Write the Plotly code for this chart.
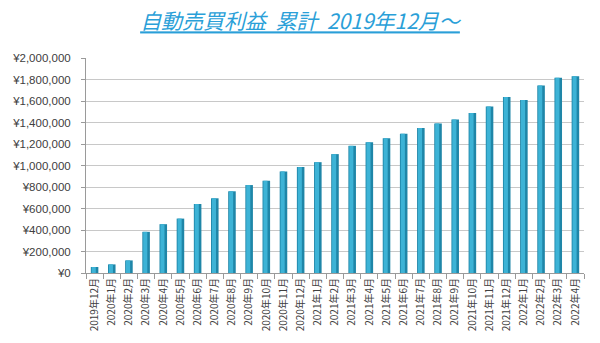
import plotly.graph_objects as go

months = ["2019年12月", "2020年1月", "2020年2月", "2020年3月", "2020年4月", "2020年5月",
          "2020年6月", "2020年7月", "2020年8月", "2020年9月", "2020年10月", "2020年11月",
          "2020年12月", "2021年1月", "2021年2月", "2021年3月", "2021年4月", "2021年5月",
          "2021年6月", "2021年7月", "2021年8月", "2021年9月", "2021年10月", "2021年11月",
          "2021年12月", "2022年1月", "2022年2月", "2022年3月", "2022年4月"]
profit = [55600, 80000, 117000, 383000, 454000, 506000, 642000, 695000, 760000, 818000,
          858000, 945000, 985000, 1031000, 1106000, 1183000, 1217000, 1254000, 1295000,
          1349000, 1390000, 1427000, 1488000, 1550000, 1637000, 1609000, 1745000, 1816000,
          1831000]

title_text = "自動売買利益  累計  2019年12月～"

fig = go.Figure()
fig.add_trace(go.Bar(x=months, y=profit, width=0.44,
                     marker=dict(color="#1f86a8", line=dict(width=0)),
                     hoverinfo="skip"))
fig.add_trace(go.Bar(x=months, y=profit, width=0.24, offset=-0.17,
                     marker=dict(color="#3db3d6", line=dict(width=0)),
                     hoverinfo="skip"))

fig.update_layout(
    width=600, height=343,
    margin=dict(l=84, r=16, t=58, b=70),
    paper_bgcolor="white", plot_bgcolor="white",
    barmode="overlay", showlegend=False,
    title=dict(text=title_text, x=0.5, xanchor="center", xref="container",
               y=1 - 22 / 343, yanchor="middle", yref="container",
               font=dict(family="Noto Sans CJK JP", size=21, color="#2a9fd8",
                         style="italic", lineposition="under")),
    font=dict(family="Liberation Sans", color="#404040"),
)
fig.update_yaxes(range=[0, 2000000], dtick=200000, tickprefix="¥", tickformat=",d",
                 showgrid=True, gridcolor="#c8c8c8", gridwidth=1,
                 showline=True, linecolor="#9a9a9a", linewidth=1,
                 ticks="outside", ticklen=4, tickcolor="#9a9a9a",
                 ticklabelstandoff=8,
                 tickfont=dict(size=11.5, color="#404040"), zeroline=False)
fig.update_xaxes(type="category", tickangle=-90, tickson="boundaries",
                 showline=True, linecolor="#9a9a9a", linewidth=1,
                 ticks="outside", ticklen=5, tickcolor="#9a9a9a",
                 tickfont=dict(family="Noto Sans CJK JP", size=10, color="#404040"),
                 showgrid=False)

fig.write_html("out.html")
